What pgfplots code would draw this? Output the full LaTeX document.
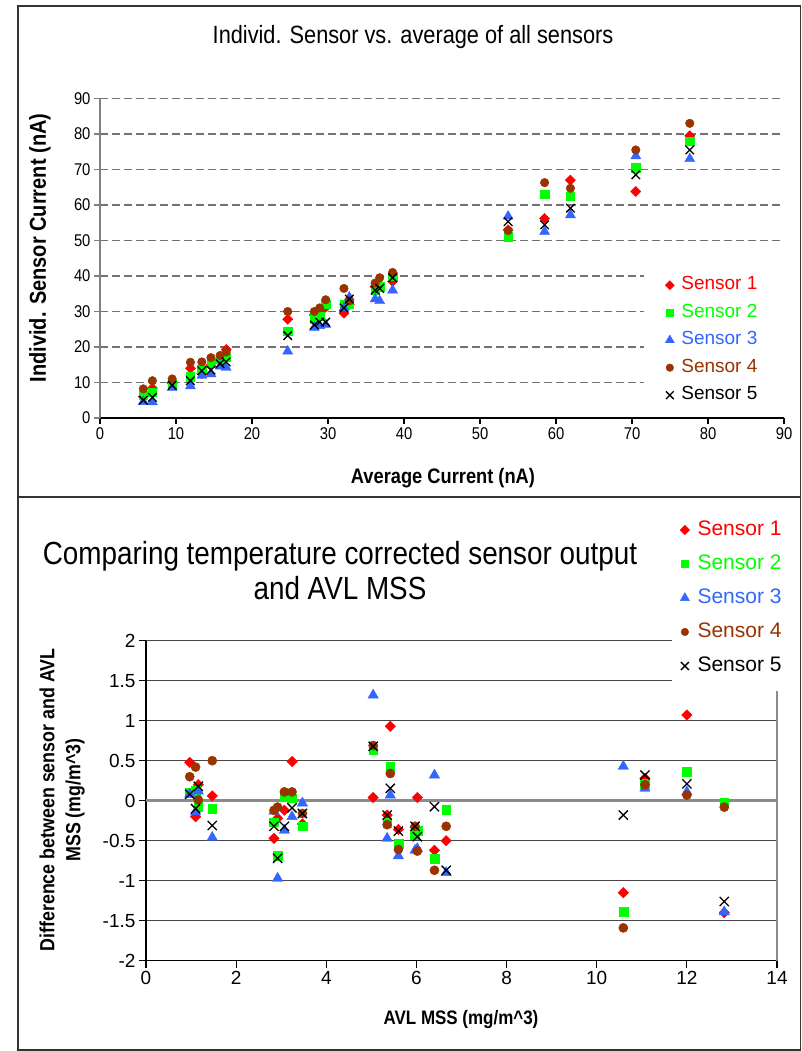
\documentclass[border=0pt]{standalone}
\usepackage{fontspec}
\setmainfont{Liberation Sans}
\newfontfamily\narrowfont[FakeStretch=0.87]{Liberation Sans}
\usepackage{pgfplots}
\usepackage{pgfplotstable}
\pgfplotsset{compat=1.18}
\definecolor{sone}{HTML}{FF0000}
\definecolor{stwo}{HTML}{00FF00}
\definecolor{sthree}{HTML}{3366FF}
\definecolor{sfour}{HTML}{993300}
\definecolor{framec}{HTML}{333333}

\pgfplotstableread{
x s1 s2 s3 s4 s5
5.7 6.0 6.5 4.6 8.2 5.0
6.9 8.4 7.3 4.5 10.5 5.8
9.5 9.8 9.6 8.5 11.0 9.2
11.9 14.0 11.6 9.0 15.7 10.5
13.4 12.5 13.8 12.0 15.8 13.3
14.6 14.9 15.5 12.4 17.0 13.5
15.8 16.5 16.5 14.6 17.6 15.3
16.6 19.3 17.2 14.2 18.6 15.8
24.7 27.8 24.5 18.8 30.0 23.2
28.2 29.0 28.0 25.5 30.0 26.2
28.9 30.0 28.6 26.0 31.0 27.0
29.7 31.2 32.0 26.3 33.3 27.0
32.1 29.5 32.0 31.0 36.5 31.0
32.8 32.0 32.0 34.0 33.0 33.5
36.2 37.0 36.0 33.5 38.0 36.0
36.8 37.5 37.0 33.0 39.5 36.5
38.5 38.5 40.0 36.0 41.0 39.5
53.7 53.0 51.1 56.8 52.8 55.3
58.5 56.2 63.0 52.5 66.3 54.4
61.9 67.0 62.5 57.2 64.7 59.1
70.5 63.8 70.5 73.8 75.5 68.5
77.6 79.5 78.0 73.0 83.0 75.5
}\topdata

\pgfplotstableread{
x s1 s2 s3 s4 s5
0.97 0.48 0.10 0.08 0.30 0.08
1.10 -0.20 0.12 -0.14 0.42 -0.10
1.16 0.20 -0.08 0.12 0.01 0.18
1.47 0.06 -0.10 -0.46 0.50 -0.31
2.84 -0.47 -0.27 -0.13 -0.12 -0.32
2.92 -0.22 -0.69 -0.97 -0.08 -0.72
3.07 -0.12 0.05 -0.37 0.11 -0.32
3.24 0.49 0.03 -0.20 0.11 -0.09
3.47 -0.29 -0.32 -0.03 -0.16 -0.16
5.04 0.04 0.64 1.32 0.69 0.68
5.35 -0.18 -0.28 -0.47 -0.30 -0.18
5.42 0.93 0.42 0.07 0.34 0.155
5.60 -0.36 -0.54 -0.69 -0.61 -0.38
5.97 -0.33 -0.43 -0.62 -0.32 -0.32
6.02 0.04 -0.38 -0.60 -0.63 -0.45
6.40 -0.62 -0.73 0.32 -0.87 -0.075
6.66 -0.50 -0.11 -0.90 -0.32 -0.87
10.59 -1.15 -1.39 0.43 -1.59 -0.18
11.07 0.28 0.21 0.155 0.20 0.32
12.00 1.07 0.36 0.11 0.07 0.21
12.83 -1.40 -0.025 -1.39 -0.08 -1.26
}\botdata

\pgfplotsset{
  legmark/.style={legend image code/.code={\draw[##1] plot coordinates {(0pt,0pt)};}},
  mA/.style={mark=square*, mark size=#1, mark options={rotate=45, fill=sone, draw=sone, solid}},
  mB/.style={mark=square*, mark size=#1, mark options={fill=stwo, draw=stwo, solid}},
  mC/.style={mark=triangle*, mark size=#1, mark options={fill=sthree, draw=sthree, solid}},
  mD/.style={mark=*, mark size=#1, mark options={fill=sfour, draw=sfour, solid}},
  mE/.style={mark=x, mark size=#1, mark options={draw=black, line width=1.3pt, solid}},
}

\begin{document}
\begin{tikzpicture}
\path[use as bounding box] (0pt,0pt) rectangle (802pt,1051pt);
% frames
\draw[framec, line width=1.6pt] (18pt,1045pt) -- (800.5pt,1045pt) -- (800.5pt,1pt) -- (18pt,1pt) -- cycle;
\draw[framec, line width=2pt] (18pt,554pt) -- (800.5pt,554pt);

% ---------- top chart ----------
\begin{axis}[
  at={(100pt,633pt)}, anchor=south west,
  scale only axis, width=684pt, height=319.5pt,
  xmin=0, xmax=90, ymin=0, ymax=90,
  xtick={0,10,...,90}, ytick={0,10,...,90},
  axis x line*=bottom, axis y line*=left,
  x axis line style={-, black, line width=1.3pt},
  y axis line style={-, black!50, line width=1.6pt},
  tick align=outside, major tick length=6pt,
  xtick style={black, line width=1.2pt},
  ytick style={black!50, line width=1.2pt},
  ymajorgrids,
  grid style={dash pattern=on 8pt off 4pt, color=black!55, line width=1.3pt},
  /pgf/number format/assume math mode=true,
  tick label style={font=\narrowfont\fontsize{17}{20}\selectfont},
  clip=false,
  legend cell align=left,
  legend style={at={(axis description cs:0.7955,0.4695)}, anchor=north west,
    draw=none, fill=white, inner xsep=21pt, inner ysep=6.5pt, row sep=6.5pt,
    column sep=5pt,
    font=\fontsize{19}{22}\selectfont,
    nodes={inner sep=2pt, text height=13pt, text depth=4pt}},
]
\addplot[only marks, mA=3.6, forget plot] table[x=x, y=s1] {\topdata};
\addplot[only marks, mB=4.2, forget plot] table[x=x, y=s2] {\topdata};
\addplot[only marks, mC=5.8, forget plot] table[x=x, y=s3] {\topdata};
\addplot[only marks, mD=4.3, forget plot] table[x=x, y=s4] {\topdata};
\addplot[only marks, mE=6.0, forget plot] table[x=x, y=s5] {\topdata};
\addlegendimage{legmark, mA=3.2}
\addlegendentry{\textcolor{sone}{Sensor 1}}
\addlegendimage{legmark, mB=3.3}
\addlegendentry{\textcolor{stwo}{Sensor 2}}
\addlegendimage{legmark, mC=5.2}
\addlegendentry{\textcolor{sthree}{Sensor 3}}
\addlegendimage{legmark, mD=3.8}
\addlegendentry{\textcolor{sfour}{Sensor 4}}
\addlegendimage{legmark, mE=5.5}
\addlegendentry{\textcolor{black}{Sensor 5}}
\end{axis}

\node[font=\narrowfont\fontsize{25}{30}\selectfont] at (413pt,1014pt) {Individ. Sensor vs. average of all sensors};
\node[font=\narrowfont\bfseries\fontsize{21}{25}\selectfont] at (443pt,573pt) {Average Current (nA)};
\node[rotate=90, font=\narrowfont\bfseries\fontsize{23}{27}\selectfont] at (40pt,803pt) {Individ. Sensor Current (nA)};

% ---------- bottom chart ----------
\begin{axis}[
  at={(146pt,90.3pt)}, anchor=south west,
  scale only axis, width=631pt, height=320pt,
  xmin=0, xmax=14, ymin=-2, ymax=2,
  xtick={0,2,4,6,8,10,12,14},
  ytick={-2,-1.5,-1,-0.5,0,0.5,1,1.5,2},
  axis x line*=bottom, axis y line*=left,
  x axis line style={-, black, line width=1.4pt},
  y axis line style={-, black, line width=1.4pt},
  tick align=outside, major tick length=7pt,
  tick style={black, line width=1.2pt},
  ymajorgrids,
  grid style={color=black!72, line width=1.2pt},
  /pgf/number format/assume math mode=true,
  tick label style={font=\fontsize{19}{22}\selectfont},
  clip=false,
  legend cell align=left,
  legend style={at={(axis description cs:0.8336,1.424)}, anchor=north west,
    draw=none, fill=white, inner xsep=8pt, inner ysep=13pt, row sep=10.5pt,
    column sep=6pt,
    font=\fontsize{21}{24}\selectfont,
    nodes={inner sep=2pt, text height=15pt, text depth=4.5pt}},
]
\draw[black!45, line width=2.4pt] (axis cs:0,0) -- (axis cs:14,0);
\draw[black!45, line width=1.5pt] (axis cs:14,-2) -- (axis cs:14,2);
\addplot[only marks, mA=3.7, forget plot] table[x=x, y=s1] {\botdata};
\addplot[only marks, mB=4.4, forget plot] table[x=x, y=s2] {\botdata};
\addplot[only marks, mC=6.0, forget plot] table[x=x, y=s3] {\botdata};
\addplot[only marks, mD=4.6, forget plot] table[x=x, y=s4] {\botdata};
\addplot[only marks, mE=6.5, forget plot] table[x=x, y=s5] {\botdata};
\addlegendimage{legmark, mA=3.3}
\addlegendentry{\textcolor{sone}{Sensor 1}}
\addlegendimage{legmark, mB=3.4}
\addlegendentry{\textcolor{stwo}{Sensor 2}}
\addlegendimage{legmark, mC=5.3}
\addlegendentry{\textcolor{sthree}{Sensor 3}}
\addlegendimage{legmark, mD=3.8}
\addlegendentry{\textcolor{sfour}{Sensor 4}}
\addlegendimage{legmark, mE=5.6}
\addlegendentry{\textcolor{black}{Sensor 5}}
\end{axis}

\node[align=center, font=\narrowfont\fontsize{32}{35}\selectfont] at (340pt,480.5pt) {Comparing temperature corrected sensor output\\and AVL MSS};
\node[rotate=90, align=center, font=\narrowfont\bfseries\fontsize{20.5}{26}\selectfont] at (62pt,251pt) {Difference between sensor and AVL\\MSS (mg/m\textasciicircum{}3)};
\node[font=\narrowfont\bfseries\fontsize{19.5}{24}\selectfont] at (461pt,31pt) {AVL MSS (mg/m\textasciicircum{}3)};
\end{tikzpicture}
\end{document}
